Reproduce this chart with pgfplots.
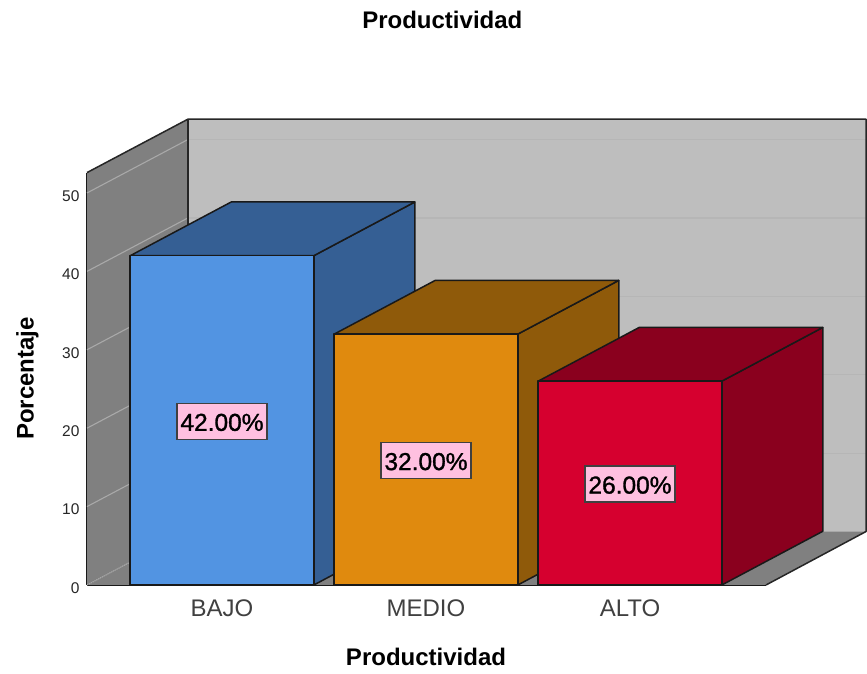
\documentclass[border=0pt]{standalone}
\usepackage{fontspec}
\setmainfont{Liberation Sans}
\newfontfamily\valuefont[FakeBold=1.2]{Liberation Sans}
\usepackage{pgfplots}
\pgfplotsset{compat=1.18}
\definecolor{wallside}{HTML}{808080}
\definecolor{wallback}{HTML}{BEBEBE}
\definecolor{gridside}{HTML}{A9A9A9}
\definecolor{gridback}{HTML}{B6B6B6}
\definecolor{bajofront}{HTML}{5294E2}
\definecolor{bajodark}{HTML}{355F94}
\definecolor{mediofront}{HTML}{E08A0E}
\definecolor{mediodark}{HTML}{8F5A0A}
\definecolor{altofront}{HTML}{D6002F}
\definecolor{altodark}{HTML}{8A001E}
\definecolor{labelpink}{HTML}{FFC0E0}
\pgfplotsset{
  face/.style={draw=black!90, line width=1.5pt, line join=round},
  wall/.style={draw=none},
  sidegrid/.style={draw=gridside, line width=1.1pt},
  backgrid/.style={draw=gridback, line width=1.2pt},
  edge/.style={draw=black!85, line width=1.5pt, line join=round},
}
\begin{document}
\begin{tikzpicture}[x=1pt,y=1pt]
\useasboundingbox (0,0) rectangle (867,674);
\begin{axis}[
  at={(87pt,89pt)}, anchor=south west,
  scale only axis, width=679pt, height=412.4pt,
  xmin=-0.6618, xmax=2.6667, ymin=0, ymax=52.6,
  clip=false,
  axis x line=bottom, axis y line=left,
  axis line style={-, black!90, line width=1.5pt},
  major tick length=0pt,
  xtick={0,1,2}, xticklabels={BAJO,MEDIO,ALTO},
  ytick={0,10,20,30,40,50},
  /pgf/number format/assume math mode=true,
  x tick label style={font=\fontsize{24}{26}\selectfont, text=black!75, yshift=-11pt},
  y tick label style={font=\fontsize{15.5}{18}\selectfont, text=black!85, xshift=-4pt, yshift=-3pt},
  xlabel={\textbf{Productividad}},
  ylabel={\textbf{Porcentaje}},
  title={\textbf{Productividad}},
  label style={font=\fontsize{24}{26}\selectfont},
  title style={font=\fontsize{24}{26}\selectfont},
  xlabel style={at={(axis cs:1,-9.2)}, anchor=center},
  ylabel style={at={(axis cs:-0.954,26.35)}, anchor=center, rotate=0},
  every axis title/.append style={at={(axis cs:1.08,71.3)}, anchor=center},
]
% walls and floor
\addplot[wall, fill=wallback] coordinates {(-0.1667,6.82)(3.1569,6.82)(3.1569,59.42)(-0.1667,59.42)} -- cycle;
\addplot[wall, fill=wallside] coordinates {(-0.6618,0)(-0.1667,6.82)(-0.1667,59.42)(-0.6618,52.6)} -- cycle;
\addplot[wall, fill=wallside] coordinates {(-0.6618,0)(2.6667,0)(3.1569,6.82)(-0.1667,6.82)} -- cycle;
% gridlines on the side and back walls
\addplot[sidegrid] coordinates {(-0.6618,10)(-0.1667,16.82)};
\addplot[sidegrid] coordinates {(-0.6618,20)(-0.1667,26.82)};
\addplot[sidegrid] coordinates {(-0.6618,30)(-0.1667,36.82)};
\addplot[sidegrid] coordinates {(-0.6618,40)(-0.1667,46.82)};
\addplot[sidegrid] coordinates {(-0.6618,50)(-0.1667,56.82)};
\addplot[sidegrid, densely dotted] coordinates {(-0.6618,0)(-0.1667,6.82)};
\addplot[backgrid] coordinates {(-0.1667,16.82)(3.1569,16.82)};
\addplot[backgrid] coordinates {(-0.1667,26.82)(3.1569,26.82)};
\addplot[backgrid] coordinates {(-0.1667,36.82)(3.1569,36.82)};
\addplot[backgrid] coordinates {(-0.1667,46.82)(3.1569,46.82)};
\addplot[backgrid] coordinates {(-0.1667,56.82)(3.1569,56.82)};
% wall outlines
\addplot[edge] coordinates {(-0.6618,52.6)(-0.1667,59.42)(3.1569,59.42)(3.1569,6.82)(2.6667,0)};
\addplot[edge] coordinates {(-0.1667,6.82)(-0.1667,59.42)};
% BAJO, 42
\addplot[face, fill=bajodark] coordinates {(0.45,0)(0.945,6.85)(0.945,48.85)(0.45,42)} -- cycle;
\addplot[face, fill=bajodark] coordinates {(-0.45,42)(0.45,42)(0.945,48.85)(0.045,48.85)} -- cycle;
\addplot[face, fill=bajofront] coordinates {(-0.45,0)(0.45,0)(0.45,42)(-0.45,42)} -- cycle;
% MEDIO, 32
\addplot[face, fill=mediodark] coordinates {(1.45,0)(1.945,6.85)(1.945,38.85)(1.45,32)} -- cycle;
\addplot[face, fill=mediodark] coordinates {(0.55,32)(1.45,32)(1.945,38.85)(1.045,38.85)} -- cycle;
\addplot[face, fill=mediofront] coordinates {(0.55,0)(1.45,0)(1.45,32)(0.55,32)} -- cycle;
% ALTO, 26
\addplot[face, fill=altodark] coordinates {(2.45,0)(2.945,6.85)(2.945,32.85)(2.45,26)} -- cycle;
\addplot[face, fill=altodark] coordinates {(1.55,26)(2.45,26)(2.945,32.85)(2.045,32.85)} -- cycle;
\addplot[face, fill=altofront] coordinates {(1.55,0)(2.45,0)(2.45,26)(1.55,26)} -- cycle;
% percentage labels at mid-height of each bar
\addplot[draw=none, point meta=explicit symbolic,
  nodes near coords,
  nodes near coords align={center},
  every node near coord/.append style={
    anchor=center, font=\valuefont\fontsize{24.5}{26}\selectfont, text=black,
    fill=labelpink, draw=black!75, line width=1.2pt, yshift=-1pt,
    inner sep=2pt, text height=20pt, text depth=1pt, minimum width=90pt, minimum height=36pt}
] coordinates {(0,21)[42.00\%] (1,16)[32.00\%] (2,13)[26.00\%]};
\end{axis}
\end{tikzpicture}
\end{document}
